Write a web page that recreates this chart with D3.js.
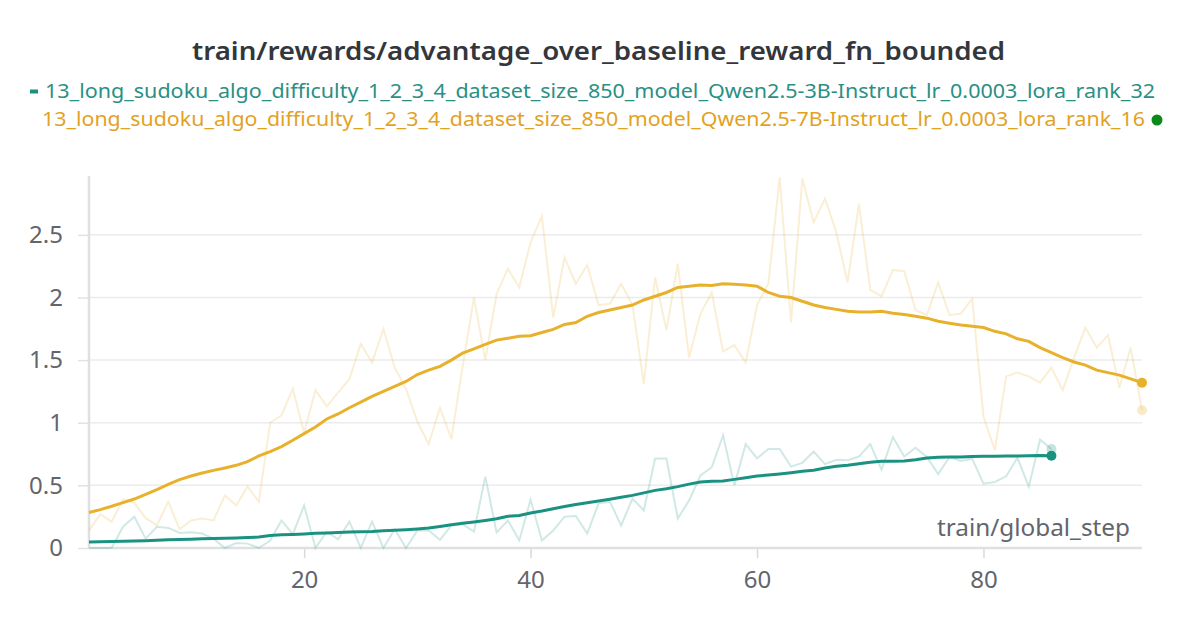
<!DOCTYPE html>
<html>
<head>
<meta charset="utf-8">
<script src="https://cdn.jsdelivr.net/npm/d3@7"></script>
<style>
  body { margin: 0; background: #fff; }
  svg text { font-family: "Source Sans Pro", "Noto Sans", sans-serif; }
</style>
</head>
<body>
<div id="chart"></div>
<script>
// run names
let runNames = [
    "13_long_sudoku_algo_difficulty_1_2_3_4_dataset_size_850_model_Qwen2.5-3B-Instruct_lr_0.0003_lora_rank_32",
    "13_long_sudoku_algo_difficulty_1_2_3_4_dataset_size_850_model_Qwen2.5-7B-Instruct_lr_0.0003_lora_rank_16"
];

let yTicks = [0, 0.5, 1, 1.5, 2, 2.5];
let xTicks = [20, 40, 60, 80];

// 3B run (steps 1..86)
let tealRaw = [0, 0, 0, 0.17, 0.25, 0.075, 0.17, 0.16, 0.12, 0.125,
    0.115, 0.075, 0, 0.04, 0.035, 0, 0.06, 0.22, 0.11, 0.34,
    0, 0.13, 0.07, 0.21, 0, 0.21, 0, 0.15, 0, 0.14,
    0.14, 0.065, 0.18, 0.19, 0.13, 0.57, 0.125, 0.22, 0.06, 0.385,
    0.06, 0.14, 0.25, 0.255, 0.115, 0.355, 0.37, 0.18, 0.395, 0.30,
    0.715, 0.715, 0.235, 0.38, 0.58, 0.645, 0.90, 0.50, 0.83, 0.715,
    0.79, 0.79, 0.65, 0.68, 0.77, 0.67, 0.705, 0.70, 0.73, 0.83,
    0.625, 0.886, 0.73, 0.80, 0.727, 0.59, 0.727, 0.695, 0.713, 0.514,
    0.527, 0.572, 0.72, 0.49, 0.865, 0.79];

let tealSmooth = [0.048, 0.05, 0.052, 0.054, 0.056, 0.058, 0.062, 0.065, 0.068, 0.07,
    0.073, 0.075, 0.077, 0.08, 0.083, 0.087, 0.10, 0.105, 0.108, 0.112,
    0.117, 0.12, 0.123, 0.127, 0.13, 0.132, 0.137, 0.142, 0.146, 0.152,
    0.16, 0.172, 0.186, 0.197, 0.208, 0.22, 0.234, 0.253, 0.26, 0.279,
    0.295, 0.314, 0.332, 0.348, 0.362, 0.375, 0.39, 0.405, 0.42, 0.44,
    0.46, 0.473, 0.49, 0.51, 0.527, 0.533, 0.535, 0.548, 0.561, 0.575,
    0.582, 0.59, 0.60, 0.612, 0.62, 0.638, 0.652, 0.66, 0.673, 0.684,
    0.692, 0.692, 0.695, 0.705, 0.718, 0.724, 0.726, 0.726, 0.73, 0.732,
    0.733, 0.734, 0.734, 0.736, 0.738, 0.737];

// 7B run (steps 1..94)
let goldRaw = [0.14, 0.27, 0.21, 0.39, 0.36, 0.24, 0.18, 0.37, 0.15, 0.22,
    0.235, 0.22, 0.42, 0.34, 0.49, 0.37, 1.0, 1.06, 1.27, 0.92,
    1.26, 1.13, 1.24, 1.35, 1.63, 1.48, 1.75, 1.44, 1.27, 1.01,
    0.83, 1.12, 0.87, 1.45, 2.0, 1.50, 2.03, 2.23, 2.08, 2.44,
    2.65, 1.84, 2.32, 2.11, 2.26, 1.94, 1.95, 2.11, 1.94, 1.31,
    2.16, 1.74, 2.27, 1.52, 1.87, 2.04, 1.57, 1.62, 1.48, 1.94,
    2.11, 2.96, 1.80, 2.95, 2.60, 2.79, 2.52, 2.12, 2.75, 2.06,
    2.01, 2.22, 2.21, 1.90, 1.86, 2.12, 1.86, 1.87, 1.99, 1.05,
    0.78, 1.37, 1.40, 1.37, 1.32, 1.44, 1.26, 1.52, 1.76, 1.60,
    1.70, 1.28, 1.60, 1.10];

let goldSmooth = [0.283, 0.306, 0.333, 0.362, 0.391, 0.428, 0.466, 0.508, 0.546, 0.575,
    0.599, 0.62, 0.639, 0.66, 0.69, 0.735, 0.77, 0.81, 0.86, 0.913,
    0.966, 1.03, 1.07, 1.12, 1.165, 1.21, 1.25, 1.29, 1.33, 1.385,
    1.42, 1.45, 1.50, 1.556, 1.59, 1.625, 1.66, 1.675, 1.69, 1.695,
    1.72, 1.745, 1.785, 1.80, 1.85, 1.88, 1.90, 1.92, 1.94, 1.98,
    2.01, 2.04, 2.08, 2.09, 2.10, 2.095, 2.11, 2.105, 2.10, 2.09,
    2.04, 2.01, 2.0, 1.97, 1.94, 1.92, 1.905, 1.89, 1.885, 1.885,
    1.89, 1.875, 1.865, 1.85, 1.835, 1.81, 1.795, 1.78, 1.77, 1.76,
    1.73, 1.71, 1.67, 1.65, 1.60, 1.56, 1.52, 1.485, 1.46, 1.42,
    1.40, 1.38, 1.35, 1.32];

let svgWidth = 1199;
let svgHeight = 630;

let margin = { top: 176, right: 57, bottom: 82, left: 89 };
let width = svgWidth - margin.left - margin.right;
let height = svgHeight - margin.top - margin.bottom;

let tealColor = "#1a9281";
let goldColor = "#e8b12c";
let labelGray = "#62656c";

let svg = d3.select("#chart")
    .append("svg")
    .attr("width", svgWidth)
    .attr("height", svgHeight);

// title
svg.append("text")
    .attr("x", 598.5)
    .attr("y", 60)
    .attr("text-anchor", "middle")
    .attr("font-size", 25)
    .attr("font-weight", 600)
    .attr("fill", "#33363b")
    .attr("textLength", 813)
    .attr("lengthAdjust", "spacingAndGlyphs")
    .text("train/rewards/advantage_over_baseline_reward_fn_bounded");

// legend
svg.append("rect")
    .attr("x", 30).attr("y", 89.5)
    .attr("width", 8).attr("height", 4)
    .attr("fill", tealColor);

svg.append("text")
    .attr("x", 45).attr("y", 98)
    .attr("font-size", 20)
    .attr("fill", "#2a8f84")
    .attr("textLength", 1110)
    .attr("lengthAdjust", "spacingAndGlyphs")
    .text(runNames[0]);

svg.append("text")
    .attr("x", 42).attr("y", 126)
    .attr("font-size", 20)
    .attr("fill", "#e2a21f")
    .attr("textLength", 1103)
    .attr("lengthAdjust", "spacingAndGlyphs")
    .text(runNames[1]);

svg.append("circle")
    .attr("cx", 1157).attr("cy", 120)
    .attr("r", 5.5)
    .attr("fill", "#0b8a1a");

let chartGroup = svg.append("g")
    .attr("transform", `translate(${margin.left}, ${margin.top})`);

// scales
let xScale = d3.scaleLinear()
    .domain([1, 94])
    .range([0, width]);

let yScale = d3.scaleLinear()
    .domain([0, 2.97])
    .range([height, 0]);

// y axis
let leftAxis = d3.axisLeft(yScale)
    .tickValues(yTicks)
    .tickSize(11)
    .tickPadding(15)
    .tickFormat(d => d3.format("~g")(d));

let yAxis = chartGroup.append("g").call(leftAxis);
yAxis.select(".domain").remove();
yAxis.selectAll(".tick line").attr("stroke", "#e2e2e4").attr("stroke-width", 1.5);
yAxis.selectAll(".tick text")
    .attr("font-size", 24)
    .attr("fill", labelGray)
    .attr("font-family", "'Source Sans Pro', 'Noto Sans', sans-serif");

// gridlines
chartGroup.append("g")
    .selectAll("line")
    .data(yTicks.filter(d => d > 0))
    .enter()
    .append("line")
    .attr("x1", 0).attr("x2", width)
    .attr("y1", d => yScale(d)).attr("y2", d => yScale(d))
    .attr("stroke", "#ececee")
    .attr("stroke-width", 1.5);

// x axis
let bottomAxis = d3.axisBottom(xScale)
    .tickValues(xTicks)
    .tickSize(10)
    .tickPadding(13);

let xAxis = chartGroup.append("g")
    .attr("transform", `translate(0,${height})`)
    .call(bottomAxis);
xAxis.select(".domain").remove();
xAxis.selectAll(".tick line").attr("stroke", "#d9d9dc").attr("stroke-width", 1.5);
xAxis.selectAll(".tick text")
    .attr("font-size", 24)
    .attr("fill", labelGray)
    .attr("font-family", "'Source Sans Pro', 'Noto Sans', sans-serif");

// axis frame lines
chartGroup.append("line")
    .attr("x1", 0).attr("x2", width)
    .attr("y1", height).attr("y2", height)
    .attr("stroke", "#e0e0e3").attr("stroke-width", 2.5);

chartGroup.append("line")
    .attr("x1", 0).attr("x2", 0)
    .attr("y1", 0).attr("y2", height)
    .attr("stroke", "#e0e0e3").attr("stroke-width", 2.5);

// x axis title inside plot
chartGroup.append("text")
    .attr("x", 1130 - margin.left)
    .attr("y", 536 - margin.top)
    .attr("text-anchor", "end")
    .attr("font-size", 23)
    .attr("fill", labelGray)
    .attr("textLength", 193)
    .attr("lengthAdjust", "spacingAndGlyphs")
    .text("train/global_step");

// lines
let line = d3.line()
    .x((d, i) => xScale(i + 1))
    .y(d => yScale(d));

chartGroup.append("path")
    .datum(goldRaw)
    .attr("d", line)
    .attr("fill", "none")
    .attr("stroke", goldColor)
    .attr("stroke-opacity", 0.2)
    .attr("stroke-width", 2);

chartGroup.append("path")
    .datum(tealRaw)
    .attr("d", line)
    .attr("fill", "none")
    .attr("stroke", tealColor)
    .attr("stroke-opacity", 0.2)
    .attr("stroke-width", 2);

chartGroup.append("path")
    .datum(goldSmooth)
    .attr("d", line)
    .attr("fill", "none")
    .attr("stroke", goldColor)
    .attr("stroke-width", 3);

chartGroup.append("path")
    .datum(tealSmooth)
    .attr("d", line)
    .attr("fill", "none")
    .attr("stroke", tealColor)
    .attr("stroke-width", 3);

// end dots
let endDots = [
    { arr: goldRaw, color: goldColor, opacity: 0.25 },
    { arr: tealRaw, color: tealColor, opacity: 0.25 },
    { arr: goldSmooth, color: goldColor, opacity: 1 },
    { arr: tealSmooth, color: tealColor, opacity: 1 }
];

chartGroup.selectAll(".end-dot")
    .data(endDots)
    .enter()
    .append("circle")
    .attr("class", "end-dot")
    .attr("cx", d => xScale(d.arr.length))
    .attr("cy", d => yScale(d.arr[d.arr.length - 1]))
    .attr("r", 5)
    .attr("fill", d => d.color)
    .attr("fill-opacity", d => d.opacity);
</script>
</body>
</html>
